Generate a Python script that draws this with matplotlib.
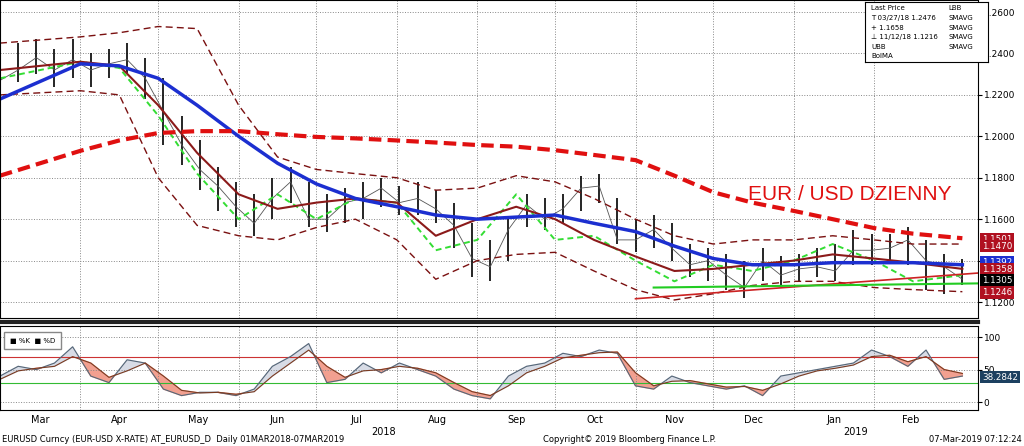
import matplotlib
matplotlib.use("Agg")
import matplotlib.pyplot as plt
import numpy as np

# weekly samples, day index from 01-Mar-2018
week_days = list(range(0, 372, 7))
close = [1.227, 1.232, 1.238, 1.232, 1.237, 1.232, 1.235, 1.237, 1.228, 1.212,
         1.196, 1.184, 1.176, 1.166, 1.158, 1.170, 1.178, 1.160, 1.160, 1.168,
         1.170, 1.175, 1.168, 1.170, 1.165, 1.157, 1.141, 1.137, 1.155, 1.167,
         1.160, 1.165, 1.175, 1.176, 1.150, 1.150, 1.155, 1.146, 1.138, 1.140,
         1.133, 1.127, 1.140, 1.133, 1.136, 1.137, 1.135, 1.145, 1.145, 1.146,
         1.150, 1.140, 1.137, 1.131]
high = [1.240, 1.245, 1.247, 1.242, 1.247, 1.240, 1.242, 1.245, 1.238, 1.228,
        1.210, 1.198, 1.185, 1.178, 1.172, 1.180, 1.185, 1.178, 1.172, 1.175,
        1.178, 1.180, 1.176, 1.178, 1.174, 1.168, 1.158, 1.150, 1.160, 1.172,
        1.170, 1.172, 1.181, 1.182, 1.170, 1.160, 1.162, 1.158, 1.148, 1.146,
        1.143, 1.140, 1.146, 1.142, 1.143, 1.146, 1.148, 1.155, 1.153, 1.153,
        1.156, 1.150, 1.143, 1.141]
low = [1.222, 1.226, 1.230, 1.224, 1.228, 1.224, 1.228, 1.230, 1.218, 1.196,
       1.186, 1.174, 1.164, 1.156, 1.152, 1.160, 1.168, 1.156, 1.154, 1.158,
       1.160, 1.166, 1.162, 1.162, 1.158, 1.146, 1.132, 1.130, 1.140, 1.156,
       1.155, 1.158, 1.164, 1.168, 1.148, 1.144, 1.146, 1.140, 1.132, 1.130,
       1.126, 1.122, 1.130, 1.128, 1.130, 1.132, 1.130, 1.138, 1.138, 1.140,
       1.138, 1.126, 1.124, 1.128]

ma_days = [0, 31, 46, 61, 76, 92, 107, 122, 137, 153, 168, 184, 199, 214, 229,
           245, 260, 275, 290, 306, 321, 337, 352, 371]
sma50 = [1.218, 1.235, 1.234, 1.228, 1.215, 1.200, 1.187, 1.177, 1.170, 1.166,
         1.162, 1.160, 1.161, 1.162, 1.158, 1.154, 1.147, 1.141, 1.138, 1.138,
         1.139, 1.139, 1.139, 1.138]
sma200 = [1.181, 1.193, 1.198, 1.2016, 1.2025, 1.2025, 1.201, 1.1997, 1.199, 1.198,
          1.197, 1.1958, 1.195, 1.1933, 1.191, 1.1885, 1.181, 1.173, 1.168, 1.164,
          1.160, 1.1557, 1.153, 1.1508]
boll_ma = [1.232, 1.236, 1.234, 1.215, 1.192, 1.172, 1.165, 1.168, 1.170, 1.168,
           1.152, 1.160, 1.166, 1.160, 1.150, 1.142, 1.135, 1.136, 1.138, 1.140,
           1.143, 1.141, 1.139, 1.136]
boll_up = [1.245, 1.248, 1.250, 1.253, 1.252, 1.215, 1.190, 1.184, 1.182, 1.180,
           1.174, 1.175, 1.181, 1.178, 1.170, 1.160, 1.152, 1.148, 1.150, 1.150,
           1.152, 1.150, 1.148, 1.148]
boll_lo = [1.220, 1.222, 1.220, 1.180, 1.157, 1.152, 1.150, 1.156, 1.160, 1.150,
           1.131, 1.140, 1.143, 1.144, 1.135, 1.126, 1.121, 1.124, 1.128, 1.130,
           1.130, 1.127, 1.126, 1.125]
sma_fast = [1.228, 1.236, 1.233, 1.210, 1.182, 1.160, 1.172, 1.160, 1.170, 1.168,
            1.145, 1.150, 1.172, 1.150, 1.152, 1.140, 1.130, 1.138, 1.135, 1.140,
            1.148, 1.140, 1.130, 1.133]

stoch_k = [40, 55, 50, 60, 85, 40, 30, 65, 60, 20, 10, 15, 15, 10, 20, 55, 70, 90,
           30, 35, 60, 45, 60, 50, 40, 20, 10, 5, 40, 55, 60, 75, 70, 80, 75, 25,
           20, 40, 30, 25, 20, 25, 10, 40, 45, 50, 55, 60, 80, 70, 55, 80, 35, 40]
stoch_d = [35, 48, 52, 55, 70, 60, 38, 48, 60, 40, 18, 14, 15, 12, 16, 40, 60, 80,
           55, 38, 48, 50, 55, 52, 45, 30, 16, 10, 25, 45, 55, 68, 72, 76, 77, 45,
           25, 32, 33, 28, 23, 24, 18, 28, 40, 48, 52, 57, 70, 72, 62, 70, 50, 44]

months = ["Mar", "Apr", "May", "Jun", "Jul", "Aug", "Sep", "Oct", "Nov", "Dec",
          "Jan", "Feb"]
month_starts = [0, 31, 61, 92, 122, 153, 184, 214, 245, 275, 306, 337, 365]

fig = plt.figure(figsize=(10.24, 4.46), dpi=100)
XMAX = 377
W = 0.955
ax = fig.add_axes([0, 0.287, W, 0.713])
ax2 = fig.add_axes([0, 0.081, W, 0.188])

for a in (ax, ax2):
    a.set_xlim(0, XMAX)
    a.set_xticks(month_starts[:-1])
    a.tick_params(axis="x", length=0, labelbottom=False)
    a.grid(True, color="#888", linestyle=":", linewidth=0.7)
    a.yaxis.tick_right()
    a.tick_params(axis="y", labelsize=6.5, length=3, pad=1)

ax.set_ylim(1.1123, 1.2658)
ax.set_yticks(np.arange(1.12, 1.261, 0.02))
ax.set_yticklabels(["%.4f" % v for v in np.arange(1.12, 1.261, 0.02)])
ax.vlines(week_days, low, high, color="black", linewidth=1.2)
ax.plot(week_days, close, color="#555", linewidth=0.6)
ax.plot(ma_days, sma_fast, color="#33dd33", linestyle=(0, (3, 2)), linewidth=1.4)
ax.plot(ma_days, boll_up, color="#7a1010", linestyle=(0, (5, 3)), linewidth=1)
ax.plot(ma_days, boll_lo, color="#7a1010", linestyle=(0, (5, 3)), linewidth=1)
ax.plot(ma_days, boll_ma, color="#8b1a1a", linewidth=1.5)
ax.plot(ma_days, sma50, color="#1c2fd0", linewidth=2.5)
ax.plot(ma_days, sma200, color="#e01010", linestyle=(0, (3, 1.5)), linewidth=3)
ax.plot([245, 377], [1.1216, 1.134], color="#cc2222", linewidth=1.2)
ax.plot([252, 377], [1.1270, 1.1290], color="#22cc22", linewidth=1.5)
ax.text(0.765, 0.37, "EUR / USD DZIENNY", transform=ax.transAxes,
        color="#e01010", fontsize=15, family="Liberation Sans")

boxes = [(1.1501, "#b01020"), (1.1392, "#1c2fd0"), (1.1470, "#b01020"),
         (1.1358, "#b01020"), (1.1305, "black"), (1.1246, "#b01020")]
for val, col in boxes:
    ax.text(1.004, val, "%.4f" % val, transform=ax.get_yaxis_transform(),
            fontsize=6.3, color="white", va="center",
            bbox=dict(boxstyle="square,pad=0.2", fc=col, ec="none"))

leg_items = ["Last Price", "T 03/27/18 1.2476", "+ 1.1658", "⊥ 11/12/18 1.1216",
             "UBB", "BolMA"]
leg_items2 = ["LBB", "SMAVG", "SMAVG", "SMAVG", "SMAVG"]
lx = fig.add_axes([0.845, 0.86, 0.12, 0.135])
lx.set_xticks([]); lx.set_yticks([])
lx.set_facecolor("white")
for i, t in enumerate(leg_items):
    lx.text(0.05, 0.9 - i * 0.16, t, fontsize=5, va="center")
for i, t in enumerate(leg_items2):
    lx.text(0.68, 0.9 - i * 0.16, t, fontsize=5, va="center")

ax2.set_ylim(-12, 117)
ax2.set_yticks([0, 50, 100])
ax2.axhline(70, color="#cc3333", linewidth=0.8)
ax2.axhline(30, color="#33bb33", linewidth=0.8)
k = np.array(stoch_k, float)
d = np.array(stoch_d, float)
ax2.fill_between(week_days, k, d, where=k >= d, color="#d8dce6", interpolate=True)
ax2.fill_between(week_days, k, d, where=k < d, color="#f2a090", interpolate=True)
ax2.plot(week_days, k, color="#556677", linewidth=0.8)
ax2.plot(week_days, d, color="#7a3a20", linewidth=0.8)
ax2.text(1.004, 38.28, "38.2842", transform=ax2.get_yaxis_transform(), fontsize=6.3,
         color="white", va="center",
         bbox=dict(boxstyle="square,pad=0.2", fc="#1d4060", ec="none"))
ax2.text(0.01, 0.8, "■ %K  ■ %D", transform=ax2.transAxes, fontsize=5,
         bbox=dict(fc="white", ec="#888"))

for i, m in enumerate(months):
    mid = (month_starts[i] + month_starts[i + 1]) / 2
    ax2.text(mid, -0.06, m, transform=ax2.get_xaxis_transform(), ha="center",
             va="top", fontsize=7)
ax2.text(148, -0.2, "2018", transform=ax2.get_xaxis_transform(), ha="center",
         va="top", fontsize=7)
ax2.text(330, -0.2, "2019", transform=ax2.get_xaxis_transform(), ha="center",
         va="top", fontsize=7)

fig.add_artist(plt.Line2D([0, W], [0.278, 0.278], color="#222", linewidth=3))
fig.text(0.002, 0.008, "EURUSD Curncy (EUR-USD X-RATE) AT_EURUSD_D  Daily 01MAR2018-07MAR2019",
         fontsize=6)
fig.text(0.53, 0.008, "Copyright© 2019 Bloomberg Finance L.P.", fontsize=6)
fig.text(0.998, 0.008, "07-Mar-2019 07:12:24", fontsize=6, ha="right")

fig.savefig("out.png", dpi=100)
